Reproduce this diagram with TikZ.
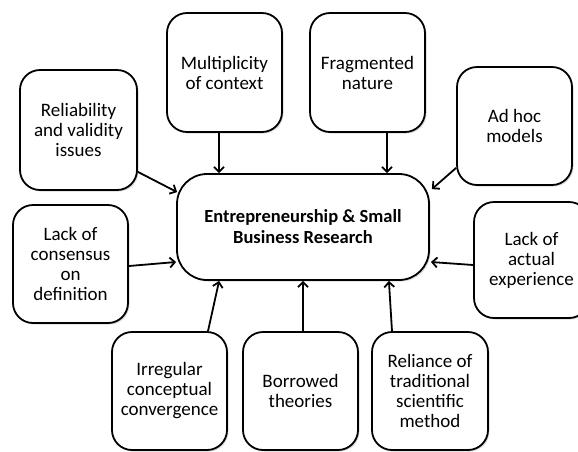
\documentclass[tikz,border=0pt]{standalone}
\usepackage{fontspec}
\setmainfont{Carlito}
\usetikzlibrary{arrows.meta,calc,shadows}
\begin{document}
\begin{tikzpicture}[x=1pt,y=-1pt,
  issue/.style={draw=black,line width=1.8pt,rounded corners=20pt,fill=white,
    minimum width=115pt,minimum height=118pt,align=center,inner sep=2pt,
    font=\fontsize{19}{20}\selectfont,
    drop shadow={shadow xshift=1.5pt,shadow yshift=-1.5pt,opacity=0.25,fill=black!60}},
  core/.style={draw=black,line width=1.8pt,rounded corners=30pt,fill=white,
    minimum width=252pt,minimum height=106pt,align=center,
    font=\fontsize{18.5}{21}\selectfont\bfseries,
    drop shadow={shadow xshift=1.5pt,shadow yshift=-1.5pt,opacity=0.25,fill=black!60}},
  arr/.style={line width=1.8pt,-{Straight Barb[length=5pt,width=10pt,line width=1.8pt]}}]
\useasboundingbox (0,0) rectangle (578,451);
\begin{scope}
\clip (0,0) rectangle (578,451);
% central topic
\node[core] (center) at (303,227) {Entrepreneurship \& Small\\Business Research};
% surrounding issues
\node[issue,minimum height=119pt] (mult) at (224.5,72.5) {Multiplicity\\of context};
\node[issue,minimum height=119pt] (frag) at (367.5,72.5) {Fragmented\\nature};
\node[issue] (adhoc) at (514.5,126) {Ad hoc\\models};
\node[issue,minimum width=117pt,minimum height=120pt] (reli) at (78.5,130) {Reliability\\and validity\\issues};
\node[issue] (cons) at (70.5,264) {Lack of\\consensus\\on\\definition};
\node[issue] (irr) at (169.5,391) {Irregular\\conceptual\\convergence};
\node[issue] (borr) at (300.5,391) {Borrowed\\theories};
\node[issue,minimum width=116pt] (relm) at (430,391) {Reliance of\\traditional\\scientific\\method};
\node[issue,minimum height=116pt] (actual) at (531.5,260) {Lack of\\actual\\experience};
\end{scope}
% start points of the straight vertical connectors
\coordinate (m1) at ($(mult.south)+(-5.5,0)$);
\coordinate (f1) at ($(frag.south)+(19.5,0)$);
\coordinate (b1) at ($(borr.north)+(2.5,0)$);
% connectors into the central topic
\draw[arr] (m1) -- (m1 |- center.north);
\draw[arr] (f1) -- (f1 |- center.north);
\draw[arr] ($(adhoc.south west)+(0,-18)$) -- ($(center.north east)+(2,16)$);
\draw[arr] ($(reli.south east)+(0,-19)$) -- ($(center.north west)+(1,19)$);
\draw[arr] ($(cons.east)+(0,2)$) -- ($(center.west)+(0,35)$);
\draw[arr] ($(irr.north)+(38.5,0)$) -- ($(center.south west)+(43,0)$);
\draw[arr] (b1) -- (b1 |- center.south);
\draw[arr] ($(relm.north)+(-38,0)$) -- ($(center.south east)+(-41,0)$);
\draw[arr] ($(actual.west)+(0,5)$) -- ($(center.east)+(1,35)$);
\end{tikzpicture}
\end{document}
